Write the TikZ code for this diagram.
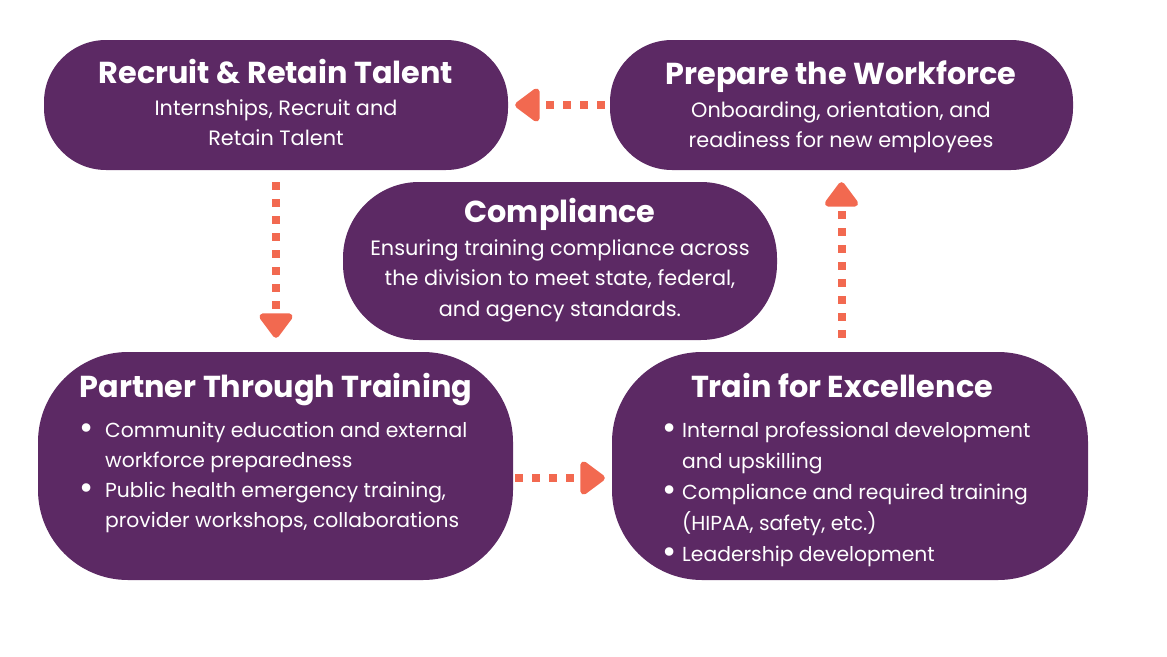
\documentclass[tikz,border=0pt]{standalone}
\usepackage{fontspec}
\usepackage{graphicx}
\setmainfont{Poppins}
\usetikzlibrary{arrows.meta}
\definecolor{plum}{HTML}{5C2964}
\definecolor{coral}{HTML}{F26950}
\newcommand{\bul}[1]{\makebox[#1][l]{\raisebox{-2.5pt}{\scalebox{1.7}{\textbullet}}}}
\begin{document}
\begin{tikzpicture}[x=1pt,y=-1pt,
		box/.style={fill=plum,draw=none,rounded corners=#1,inner sep=0pt},
		head/.style={text=white,anchor=base,inner sep=0pt,font=\fontsize{30.3}{36}\selectfont\bfseries},
		body/.style={text=white,anchor=base,inner sep=0pt,font=\fontsize{20.8}{30.5}\selectfont},
		flow/.style={draw=coral,line width=8pt,dash pattern=on 8pt off 9pt,-{Triangle[length=27pt,width=38pt,round]}}]
		\useasboundingbox (0,0) rectangle (1167,656);
		% boxes
		\node[box=62pt,minimum width=464pt,minimum height=130pt] (recruit) at (276,105) {};
		\node[box=62pt,minimum width=463pt,minimum height=130pt] (prepare) at (841.5,105) {};
		\node[box=76pt,minimum width=434pt,minimum height=158pt] (compliance) at (560,261) {};
		\node[box=90pt,minimum width=475pt,minimum height=228pt] (partner) at (275.5,466) {};
		\node[box=90pt,minimum width=476pt,minimum height=228pt] (train) at (850,466) {};
		% titles
		\node[head] (recruitT) at (276,83) {Recruit \& Retain Talent};
		\node[head] (prepareT) at (841,84) {Prepare the Workforce};
		\node[head] (complianceT) at (560,222) {Compliance};
		\node[head] (partnerT) at (276,397) {Partner Through Training};
		\node[head] (trainT) at (842,397) {Train for Excellence};
		% texts
		\node[body] (recruitB) at (276,115) {\begin{tabular}[t]{@{}c@{}}Internships, Recruit and\\Retain Talent\end{tabular}};
		\node[body] (prepareB) at (841,117) {\begin{tabular}[t]{@{}c@{}}Onboarding, orientation, and\\readiness for new employees\end{tabular}};
		\node[body] (complianceB) at (560,255) {\begin{tabular}[t]{@{}c@{}}Ensuring training compliance across\\the division to meet state, federal,\\and agency standards.\end{tabular}};
		\node[body,anchor=base west,font=\fontsize{20.3}{30}\selectfont] (partnerB) at (79,437) {\begin{tabular}[t]{@{}l@{}l@{}}\bul{26pt}&Community education and external\\&workforce preparedness\\\bul{26pt}&Public health emergency training,\\&provider workshops, collaborations\end{tabular}};
		\node[body,anchor=base west,font=\fontsize{20.3}{31}\selectfont] (trainB) at (662,437) {\begin{tabular}[t]{@{}l@{}l@{}}\bul{20pt}&Internal professional development\\&and upskilling\\\bul{20pt}&Compliance and required training\\&(HIPAA, safety, etc.)\\\bul{20pt}&Leadership development\end{tabular}};
		% arrows
		\draw[flow,shorten <=5pt,shorten >=7pt] (prepare.west) -- (recruit.east) ;%PR
		\draw[flow,shorten <=12pt,shorten >=14pt] (recruit.south) -- (recruit.south |- partner.north) ;%RP
		\coordinate (pout) at ([yshift=-12pt]partner.east);
		\draw[flow,shorten <=2pt,shorten >=7pt] (pout) -- (pout -| train.west) ;%PT
		\draw[flow,shorten <=14pt,shorten >=12pt] (prepare.south |- train.north) -- (prepare.south) ;%TP
	\end{tikzpicture}
\end{document}
